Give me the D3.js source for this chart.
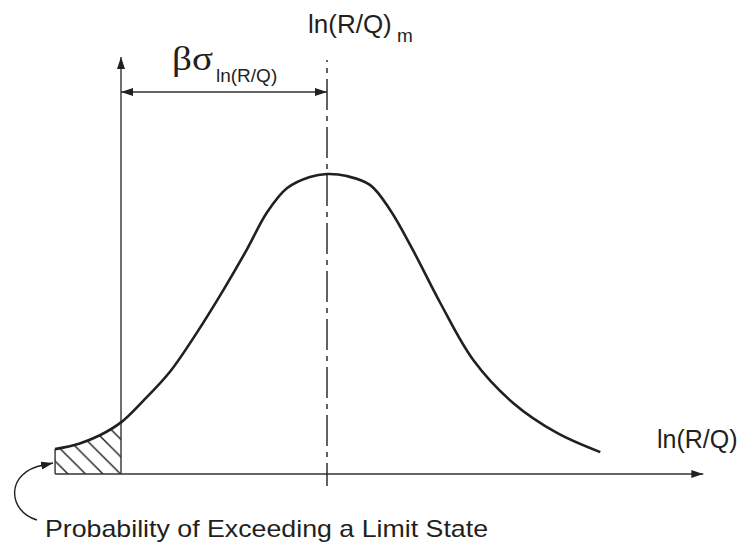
<!DOCTYPE html>
<html>
<head>
<meta charset="utf-8">
<script src="https://cdn.jsdelivr.net/npm/d3@7"></script>
<style>
  body { margin: 0; background: #fff; }
  text { font-family: "Liberation Sans", Arial, sans-serif; fill: #231f20; }
  .axis-line { stroke: #333; stroke-width: 1.4; fill: none; }
  .curve { stroke: #231f20; stroke-width: 2.6; fill: none; }
</style>
</head>
<body>
<svg id="chart" width="742" height="542"></svg>
<script>
// curve: x in ln(R/Q) units (limit state at 0, mean at beta = 3)
var lnRQ = [-0.96, -0.6, -0.3, 0, 0.32, 0.71, 1.11, 1.49, 1.83, 2.13, 2.42, 2.75, 3.0, 3.29, 3.63, 3.92, 4.25, 4.65, 5.13, 5.71, 6.35, 6.98];
var density = [0.083, 0.102, 0.13, 0.172, 0.243, 0.34, 0.473, 0.613, 0.747, 0.873, 0.953, 0.99, 1.0, 0.993, 0.963, 0.88, 0.747, 0.57, 0.38, 0.237, 0.137, 0.073];
var limitState = 0, meanValue = 3;
var xAxisExtent = [-0.96, 8.48];
var yAxisTop = 1.39;
var meanLineExtent = [1.38, -0.04];

var labels = {
  xAxis: "ln(R/Q)",
  mean: "ln(R/Q)",
  meanSub: "m",
  dist: "\u03B2\u03C3",
  distSub: "ln(R/Q)",
  prob: "Probability of Exceeding a Limit State"
};

var data = lnRQ.map(function(d, i) { return {x: d, y: density[i]}; });

var svg = d3.select("#chart");

var x = d3.scaleLinear().domain([limitState, meanValue]).range([121, 327]),
    y = d3.scaleLinear().domain([0, 1]).range([474, 174]);

var defs = svg.append("defs");

defs.append("marker")
    .attr("id", "arrow")
    .attr("markerUnits", "userSpaceOnUse")
    .attr("viewBox", "0 0 12 8")
    .attr("refX", 12).attr("refY", 4)
    .attr("markerWidth", 12).attr("markerHeight", 8)
    .attr("orient", "auto-start-reverse")
  .append("path")
    .attr("d", "M0,0L12,4L0,8Z")
    .attr("fill", "#231f20");

var hatch = defs.append("pattern")
    .attr("id", "hatch")
    .attr("patternUnits", "userSpaceOnUse")
    .attr("x", 68).attr("y", 474)
    .attr("width", 17.5).attr("height", 17.5);
hatch.append("path")
    .attr("d", "M-2,-2L19.5,19.5M-2,15.5L2,19.5M15.5,-2L19.5,2")
    .attr("stroke", "#231f20")
    .attr("stroke-width", 1.4);

defs.append("clipPath").attr("id", "tail")
  .append("rect")
    .attr("x", x(xAxisExtent[0]))
    .attr("y", 0)
    .attr("width", x(limitState) - x(xAxisExtent[0]))
    .attr("height", y(0));

var line = d3.line()
    .x(function(d) { return x(d.x); })
    .y(function(d) { return y(d.y); })
    .curve(d3.curveCatmullRom.alpha(0.5));

var area = d3.area()
    .x(function(d) { return x(d.x); })
    .y0(y(0))
    .y1(function(d) { return y(d.y); })
    .curve(d3.curveCatmullRom.alpha(0.5));

// hatched tail
svg.append("path")
    .datum(data)
    .attr("d", area)
    .attr("fill", "url(#hatch)")
    .attr("clip-path", "url(#tail)");

svg.append("line")
    .attr("class", "axis-line")
    .attr("x1", x(lnRQ[0])).attr("x2", x(lnRQ[0]))
    .attr("y1", y(density[0])).attr("y2", y(0));

// axes
svg.append("line")
    .attr("class", "axis-line")
    .attr("x1", x(xAxisExtent[0])).attr("x2", x(xAxisExtent[1]))
    .attr("y1", y(0)).attr("y2", y(0))
    .attr("marker-end", "url(#arrow)");

svg.append("line")
    .attr("class", "axis-line")
    .attr("x1", x(limitState)).attr("x2", x(limitState))
    .attr("y1", y(0)).attr("y2", y(yAxisTop))
    .attr("marker-end", "url(#arrow)");

// mean line (dash-dot)
svg.append("line")
    .attr("x1", x(meanValue)).attr("x2", x(meanValue))
    .attr("y1", y(meanLineExtent[0])).attr("y2", y(meanLineExtent[1]))
    .attr("stroke", "#231f20")
    .attr("stroke-width", 1.4)
    .attr("stroke-dasharray", "31,6,5,6")
    .attr("stroke-dashoffset", 29);

// beta*sigma dimension
svg.append("line")
    .attr("class", "axis-line")
    .attr("x1", x(limitState)).attr("x2", x(meanValue))
    .attr("y1", 92).attr("y2", 92)
    .attr("marker-start", "url(#arrow)")
    .attr("marker-end", "url(#arrow)");

// the curve
svg.append("path")
    .datum(data)
    .attr("class", "curve")
    .attr("d", line);

// pointer from the label to the tail
var p = d3.path();
p.moveTo(37, 520);
p.bezierCurveTo(8, 512, 4, 472, 44, 465);
svg.append("path")
    .attr("d", p.toString() + "L53,463")
    .attr("fill", "none")
    .attr("stroke", "#231f20")
    .attr("stroke-width", 1.4)
    .attr("marker-end", "url(#arrow)");

// texts
var mean = svg.append("text")
    .attr("x", 308).attr("y", 33)
    .style("font-size", "26px")
    .text(labels.mean);
mean.append("tspan")
    .attr("x", 397).attr("y", 42)
    .style("font-size", "19px")
    .text(labels.meanSub);

svg.append("text")
    .attr("x", 172).attr("y", 70)
    .style("font-family", "'Liberation Serif', 'Times New Roman', serif")
    .style("font-size", "34px")
    .attr("textLength", 41)
    .attr("lengthAdjust", "spacingAndGlyphs")
    .text(labels.dist);

svg.append("text")
    .attr("x", 216).attr("y", 82)
    .style("font-size", "19px")
    .text(labels.distSub);

svg.append("text")
    .attr("x", 657).attr("y", 448)
    .style("font-size", "25px")
    .text(labels.xAxis);

svg.append("text")
    .attr("x", 45).attr("y", 537)
    .style("font-size", "24px")
    .attr("textLength", 443)
    .attr("lengthAdjust", "spacingAndGlyphs")
    .text(labels.prob);
</script>
</body>
</html>
